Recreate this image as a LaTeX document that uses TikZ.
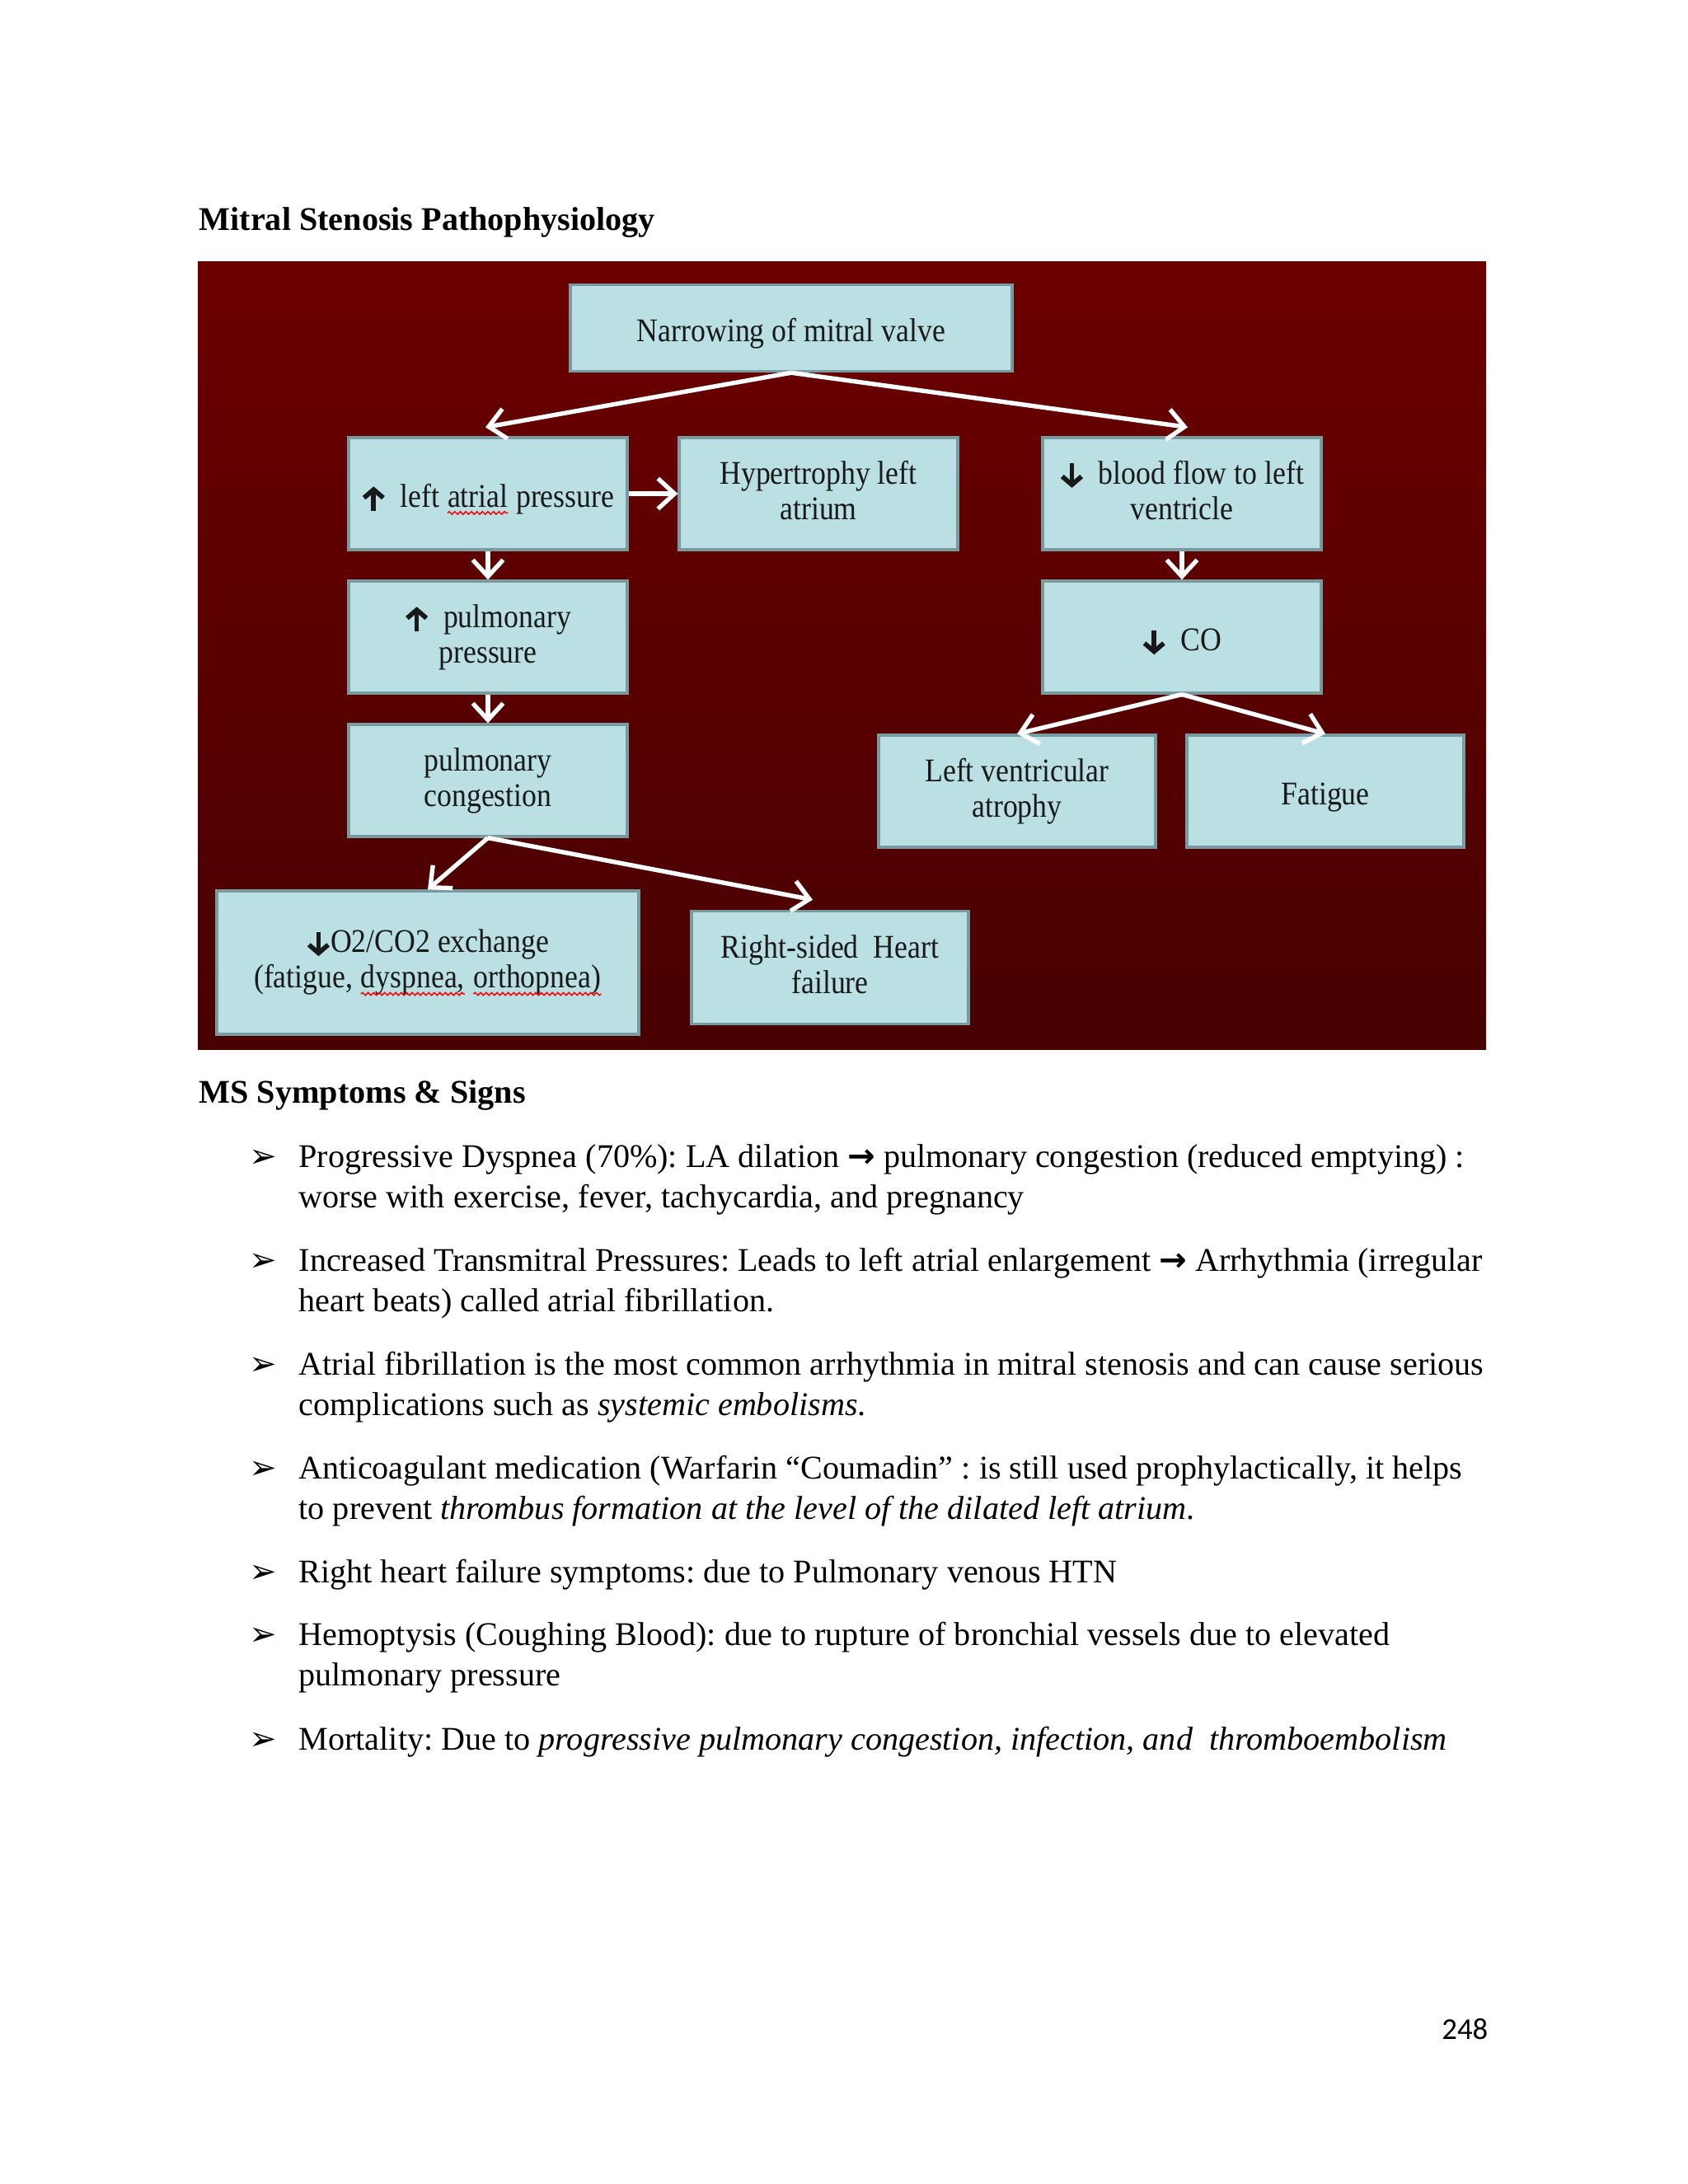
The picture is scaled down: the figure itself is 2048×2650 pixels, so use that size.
\documentclass[tikz,border=0pt]{standalone}
\usepackage{fontspec}
\setmainfont{Liberation Serif}
\newfontfamily\boxfont{Liberation Serif}[FakeStretch=0.89]
\newfontfamily\symfont{DejaVu Sans}
\newfontfamily\pagefont{Carlito}
\usetikzlibrary{arrows.meta}
\usetikzlibrary{calc}
\usetikzlibrary{decorations.pathmorphing}

\definecolor{boxfill}{RGB}{186,224,228}
\definecolor{boxline}{RGB}{122,154,162}
\definecolor{paneltop}{RGB}{108,0,0}
\definecolor{panelmid}{RGB}{134,0,2}
\definecolor{panelbot}{RGB}{72,0,0}

\newcommand{\topstrut}{\rule{0pt}{12.5pt}}
\newcommand{\tallstrut}{\rule{0pt}{15.6pt}}
\newcommand{\botstrut}{\rule[-2.6pt]{0pt}{2.6pt}}
\newcommand{\uparr}{\tikz[baseline=0pt]{\draw[black!90,fill=none,line width=1.7pt,-{Straight Barb[length=3pt,width=7pt]}] (0pt,-1.4pt) -- (0pt,7.4pt);}}
\newcommand{\dnarr}{\tikz[baseline=0pt]{\draw[black!90,fill=none,line width=1.7pt,-{Straight Barb[length=3pt,width=7pt]}] (0pt,7.4pt) -- (0pt,-1.4pt);}}
\newcommand{\toarr}{{\symfont\bfseries →}}
\newcommand{\bul}{{\symfont ➢}}
\newcommand{\spell}[1]{\tikz[baseline=(sp.base)]{\let\topstrut\relax\let\tallstrut\relax\let\botstrut\relax
  \node[inner sep=0pt,outer sep=0pt,minimum width=0pt,minimum height=0pt,draw=none,fill=none,anchor=base] (sp) {#1};
  \draw[red,fill=none,line width=0.45pt,decorate,decoration={snake,amplitude=0.5pt,segment length=2pt}]
    ([yshift=-2.2pt]sp.base west) -- ([yshift=-2.2pt]sp.base east);}}

\tikzset{
  box/.style={draw=boxline,line width=1pt,fill=boxfill,align=center,inner sep=2pt,
    minimum width=101pt,minimum height=40.6pt,
    font=\boxfont\fontsize{12}{12.9}\selectfont,text=black!90,
    execute at begin node=\topstrut,execute at end node=\botstrut},
  twoline/.style={execute at begin node=\tallstrut},
  flow/.style={draw=white,line width=1.6pt,-{Straight Barb[length=6pt,width=11pt]}},
  heading/.style={anchor=base west,inner sep=0pt,font=\bfseries\fontsize{12}{14}\selectfont},
  bodytext/.style={anchor=base west,inner sep=0pt,font=\fontsize{12}{14.64}\selectfont},
  bullet/.style={anchor=base west,inner sep=0pt,font=\fontsize{12}{14}\selectfont},
}

\frenchspacing
\begin{document}
\begin{tikzpicture}[x=0.29883pt,y=-0.29883pt]
\useasboundingbox (0,0) rectangle (2048,2650);
\node[heading] (title) at (241,279) {Mitral Stenosis Pathophysiology};

% background of the chart
\shade[top color=paneltop,middle color=panelmid,bottom color=panelbot] (240,317) rectangle (1803,1273);

% boxes
\node[box,minimum width=160.2pt,minimum height=31.4pt] (narrow) at (960,398) {Narrowing of mitral valve};
\node[box] (la) at (592,599) {\uparr\ \ left \spell{atrial} pressure};
\node[box,twoline] (hyp) at (993,599) {Hypertrophy left\\atrium};
\node[box,twoline] (bf) at (1434,599) {\dnarr\ \ blood flow to left\\ventricle};
\node[box,twoline] (pp) at (592,773) {\uparr\ \ pulmonary\\pressure};
\node[box] (co) at (1434,773) {\dnarr\ \ CO};
\node[box,twoline] (pc) at (592,947) {pulmonary\\congestion};
\node[box,twoline,minimum width=100.5pt] (lv) at (1234,960) {Left ventricular\\atrophy};
\node[box,minimum width=100.5pt] (fat) at (1608,960) {Fatigue};
\node[box,twoline,minimum width=153pt,minimum height=52pt] (o2) at (519,1168) {\dnarr O2/CO2 exchange\\(fatigue, \spell{dyspnea,} \spell{orthopnea)}};
\node[box,twoline,minimum width=100.5pt,minimum height=41pt] (rs) at (1007,1174) {Right-sided\ \ Heart\\failure};

% arrows
\draw[flow] (narrow.south) -- ($(la.north)+(-3,-11)$);
\draw[flow] (narrow.south) -- ($(bf.north)+(7,-11)$);
\draw[flow] (la.east) -- (hyp.west);
\draw[flow] (la.south) -- (pp.north);
\draw[flow] (pp.south) -- (pc.north);
\draw[flow] (bf.south) -- (co.north);
\draw[flow] (co.south) -- (lv.north);
\draw[flow] (co.south) -- (fat.north);
\draw[flow] (pc.south) -- (o2.north);
\draw[flow] (pc.south) -- ($(rs.north)+(-21,-12)$);

\node[heading] (signs) at (241,1338) {MS Symptoms \& Signs};

% list
\node[bullet] (b1) at (302,1416) {\bul};
\node[bodytext] (t1) at (362,1416) {\parbox[t]{470pt}{Progressive Dyspnea (70\%): LA dilation \toarr\ pulmonary congestion (reduced emptying) :\\worse with exercise, fever, tachycardia, and pregnancy}};
\node[bullet] (b2) at (302,1542) {\bul};
\node[bodytext] (t2) at (362,1542) {\parbox[t]{470pt}{Increased Transmitral Pressures: Leads to left atrial enlargement \toarr\ Arrhythmia (irregular\\heart beats) called atrial fibrillation.}};
\node[bullet] (b3) at (302,1668) {\bul};
\node[bodytext] (t3) at (362,1668) {\parbox[t]{470pt}{Atrial fibrillation is the most common arrhythmia in mitral stenosis and can cause serious\\complications such as \textit{systemic embolisms}.}};
\node[bullet] (b4) at (302,1794) {\bul};
\node[bodytext] (t4) at (362,1794) {\parbox[t]{470pt}{Anticoagulant medication (Warfarin “Coumadin” : is still used prophylactically, it helps\\to prevent \textit{thrombus formation at the level of the dilated left atrium}.}};
\node[bullet] (b5) at (302,1920) {\bul};
\node[bodytext] (t5) at (362,1920) {Right heart failure symptoms: due to Pulmonary venous HTN};
\node[bullet] (b6) at (302,1996) {\bul};
\node[bodytext] (t6) at (362,1996) {\parbox[t]{470pt}{Hemoptysis (Coughing Blood): due to rupture of bronchial vessels due to elevated\\pulmonary pressure}};
\node[bullet] (b7) at (302,2123) {\bul};
\node[bodytext] (t7) at (362,2123) {Mortality: Due to \textit{progressive pulmonary congestion, infection, and\ \ thromboembolism}};

\node[anchor=base east,inner sep=0pt,font=\pagefont\fontsize{11}{13}\selectfont] (pagenum) at (1806,2474) {248};
\end{tikzpicture}
\end{document}
